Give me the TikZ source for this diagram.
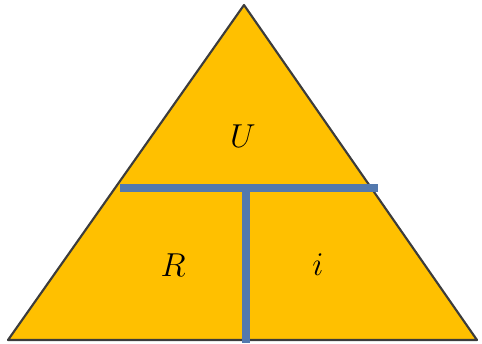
\documentclass[tikz,border=0pt]{standalone}
\usepackage{xcolor}
\definecolor{gold}{HTML}{FFC000}
\definecolor{edge}{HTML}{3C3C3C}
\definecolor{barblue}{HTML}{5379AE}
\begin{document}
\begin{tikzpicture}[x=0.75pt, y=0.75pt, line cap=butt, line join=round]
  \tikzset{
    bar/.style={draw=barblue, line width=6pt},
    lbl/.style={font=\fontsize{33}{36}\selectfont}
  }
  \useasboundingbox (0,0) rectangle (482,343);

  % Triangle corners
  \coordinate (top) at (244, 338);
  \coordinate (bl) at (8, 3);
  \coordinate (br) at (477, 3);

  % Ends of the bars
  \coordinate (hl) at (120, 155);
  \coordinate (hr) at (378, 155);
  \coordinate (vt) at (246, 155);
  \coordinate (vb) at (246, 0);

  % Triangle
  \filldraw[fill=gold, draw=edge, line width=1.6pt] (bl) -- (top) -- (br) -- cycle;

  % Dividing bars
  \draw[bar] (hl) -- (hr);
  \draw[bar] (vt) -- (vb);

  % Labels
  \node[lbl] (u) at (243, 207) {$U$};
  \node[lbl] (r) at (173, 78) {$R$};
  \node[lbl] (i) at (318, 78) {$i$};
\end{tikzpicture}
\end{document}
